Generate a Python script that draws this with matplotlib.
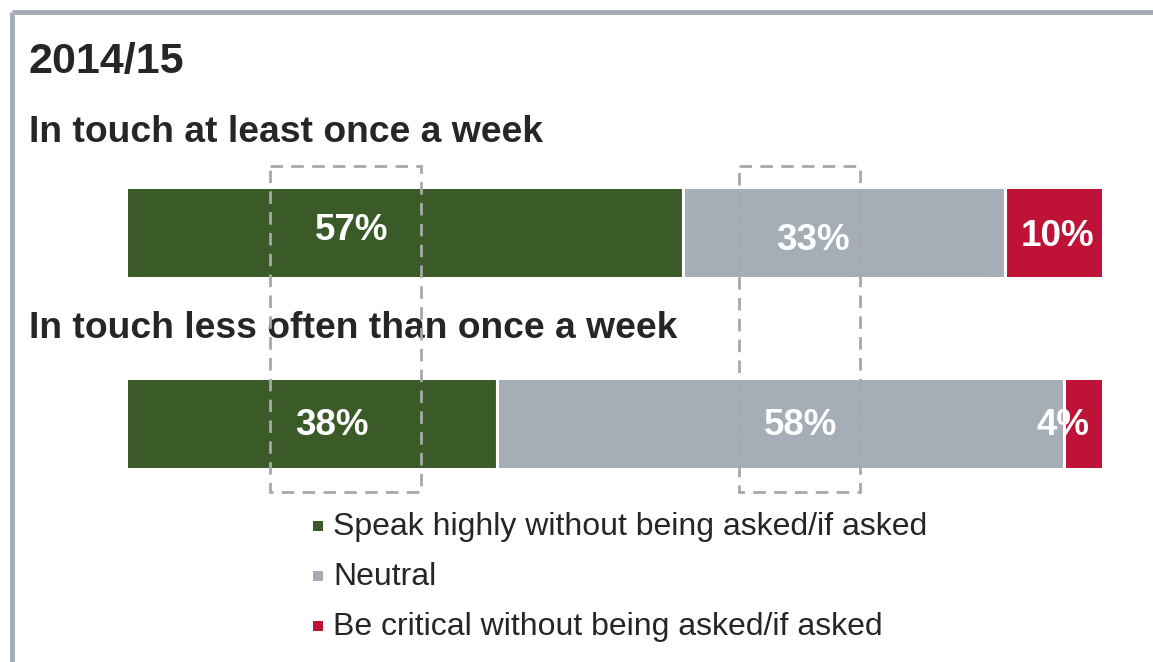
"""Horizontal stacked bars of how often people speak highly/neutral/critically, 2014/15"""
import matplotlib.pyplot as plt
from matplotlib.patches import Rectangle

plt.rcParams['font.family'] = ['Liberation Sans', 'DejaVu Sans']

period = "2014/15"
groups = ["In touch at least once a week", "In touch less often than once a week"]
categories = ["Speak highly without being asked/if asked", "Neutral",
              "Be critical without being asked/if asked"]
speak_highly = [57, 38]
neutral = [33, 58]
critical = [10, 4]
colors = ["#3a5a28", "#a5adb6", "#be1236"]
text_color = "#262626"

W, H = 1153, 662
fig = plt.figure(figsize=(W / 100, H / 100), dpi=100)

# overlay in pixel space for frame, headings and legend
over = fig.add_axes([0, 0, 1, 1])
over.set_xlim(0, W)
over.set_ylim(H, 0)
over.axis('off')

# frame on left and top
over.plot([11.5, 11.5], [H, 11.5], color="#a5adb6", lw=3.5, solid_capstyle='butt')
over.plot([11.5, W], [11.5, 11.5], color="#a5adb6", lw=3.5, solid_capstyle='butt')

over.text(29, 73, period, fontsize=31, fontweight='bold', color=text_color, va='baseline')
group_base = [142, 338]
for name, gy in zip(groups, group_base):
    over.text(29, gy, name, fontsize=26.8, fontweight='bold', color=text_color,
              va='baseline')

# bar axes: x in percent, y in pixels
ax = fig.add_axes([126 / W, 0, 977 / W, 1])
ax.set_xlim(0, 100)
ax.set_ylim(H, 0)
ax.axis('off')

bar_y = [232, 423]
series = [speak_highly, neutral, critical]
left = [0, 0]
for vals, col, cat in zip(series, colors, categories):
    ax.barh(bar_y, vals, left=left, height=91, color=col, edgecolor='white',
            linewidth=2.2, label=cat)
    left = [l + v for l, v in zip(left, vals)]

# value labels, hand placed within each segment (baseline offsets from bar centre)
label_x = [[23.1, 70.3, 95.3], [21.1, 69.0, 95.9]]
label_dy = [[8, 18, 14], [12, 12, 12]]
for i in range(len(groups)):
    for j, vals in enumerate(series):
        ax.text(label_x[i][j], bar_y[i] + label_dy[i][j], f"{vals[i]}%",
                fontsize=26.5, fontweight='bold', color='white',
                ha='center', va='baseline')

# dashed highlight boxes drawn over everything
top = fig.add_axes([0, 0, 1, 1])
top.set_xlim(0, W)
top.set_ylim(H, 0)
top.axis('off')
for x0, x1 in [(270, 421), (739, 860)]:
    top.add_patch(Rectangle((x0, 166), x1 - x0, 326, fill=False,
                            edgecolor="#a8a8a8", lw=2, ls=(0, (4.5, 3))))

# legend
leg_base = [535, 585, 635]
for cat, col, ly in zip(categories, colors, leg_base):
    over.scatter([317.5], [ly - 9], marker='s', s=55, color=col, linewidths=0)
    over.text(333, ly, cat, fontsize=23, color=text_color, va='baseline')

fig.savefig("out.png", dpi=100)
